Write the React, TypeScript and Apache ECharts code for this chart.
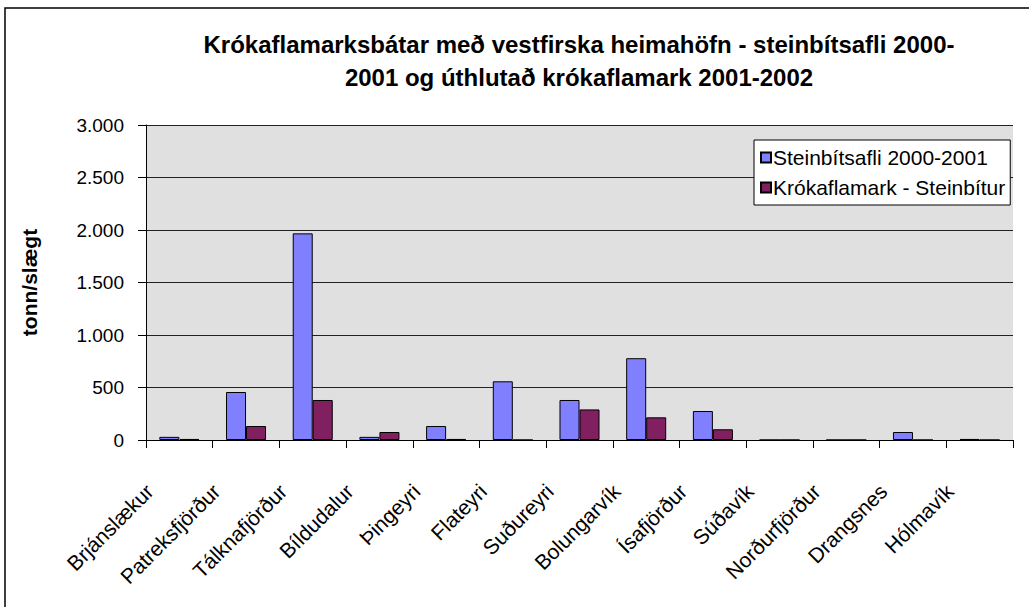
import React, { useEffect, useRef } from "react";
import * as echarts from "echarts";

const categories = [
  "Brjánslækur", "Patreksfjörður", "Tálknafjörður", "Bíldudalur", "Þingeyri",
  "Flateyri", "Suðureyri", "Bolungarvík", "Ísafjörður", "Súðavík",
  "Norðurfjörður", "Drangsnes", "Hólmavík",
];
const seriesNames = ["Steinbítsafli 2000-2001", "Krókaflamark - Steinbítur"];
const afli = [30, 457, 1968, 30, 133, 559, 381, 779, 276, 0, 0, 76, 10];
const krokaflamark = [10, 133, 381, 76, 10, 0, 291, 216, 102, 0, 0, 0, 0];
const titleLines = [
  "Krókaflamarksbátar með vestfirska heimahöfn - steinbítsafli 2000-",
  "2001 og úthlutað krókaflamark 2001-2002",
];
const yAxisName = "tonn/slægt";

const fmt = (v: number) => String(v).replace(/\B(?=(\d{3})+(?!\d))/g, ".");

export default function App() {
  const ref = useRef<HTMLDivElement>(null);
  useEffect(() => {
    if (!ref.current) return;
    const chart = echarts.init(ref.current, undefined, { renderer: "svg" });
    const font = "Arial, 'Liberation Sans', sans-serif";
    chart.setOption({
      animation: false,
      backgroundColor: "#ffffff",
      textStyle: { fontFamily: font, color: "#000" },
      title: {
        text: titleLines.join("\n"),
        left: 574,
        textAlign: "center",
        top: 23,
        textStyle: { fontSize: 24, fontWeight: "bold", lineHeight: 33, color: "#000", fontFamily: font },
      },
      graphic: [
        {
          type: "rect",
          shape: { x: 5, y: 8, width: 1200, height: 800 },
          style: { fill: "none", stroke: "#000", lineWidth: 1.5 },
          silent: true,
        },
      ],
      legend: {
        orient: "vertical",
        left: 754,
        top: 140,
        backgroundColor: "#ffffff",
        borderColor: "#000",
        borderWidth: 1,
        borderRadius: 0,
        padding: [7, 5, 7, 6],
        itemGap: 9,
        itemWidth: 10,
        itemHeight: 10,
        icon: "rect",
        textStyle: { fontSize: 21, color: "#000", fontFamily: font, padding: [0, 0, 0, -3] },
        data: seriesNames,
      },
      grid: { left: 146, top: 125, right: 16, bottom: 167, containLabel: false, show: true, backgroundColor: "#E0E0E0", borderWidth: 0 },
      xAxis: {
        type: "category",
        data: categories,
        boundaryGap: true,
        axisLine: { show: true, lineStyle: { color: "#000", width: 1 } },
        axisTick: { show: true, length: 8, alignWithLabel: false, lineStyle: { color: "#000" } },
        axisLabel: {
          rotate: 45,
          color: "#000",
          margin: 18,
          interval: 0,
          formatter: (v: string) => `{t|${v}}{s|}`,
          rich: {
            t: { fontSize: 21, color: "#000", fontFamily: font },
            s: { width: 42, fontSize: 21 },
          },
        },
      },
      yAxis: {
        type: "value",
        min: 0,
        max: 3000,
        interval: 500,
        name: yAxisName,
        nameLocation: "middle",
        nameRotate: 90,
        nameGap: 106,
        nameTextStyle: { fontSize: 21, fontWeight: "bold", color: "#000", fontFamily: font },
        axisLine: { show: true, lineStyle: { color: "#000", width: 1 } },
        axisTick: { show: true, length: 8, lineStyle: { color: "#000" } },
        axisLabel: { fontSize: 19, color: "#000", margin: 22, formatter: (v: number) => fmt(v), fontFamily: font },
        splitLine: { show: true, lineStyle: { color: "#222", width: 1 } },
      },
      series: [
        {
          name: seriesNames[0],
          type: "bar",
          data: afli,
          barCategoryGap: "40%",
          barGap: "0%",
          itemStyle: { color: "#8080FF", borderColor: "#000", borderWidth: 1 },
        },
        {
          name: seriesNames[1],
          type: "bar",
          data: krokaflamark,
          barCategoryGap: "40%",
          barGap: "0%",
          itemStyle: { color: "#802060", borderColor: "#000", borderWidth: 1 },
        },
      ],
    });
    return () => chart.dispose();
  }, []);
  return (
    <div
      ref={ref}
      style={{ position: "fixed", left: 0, top: 0, width: 1029, height: 607 }}
    />
  );
}
